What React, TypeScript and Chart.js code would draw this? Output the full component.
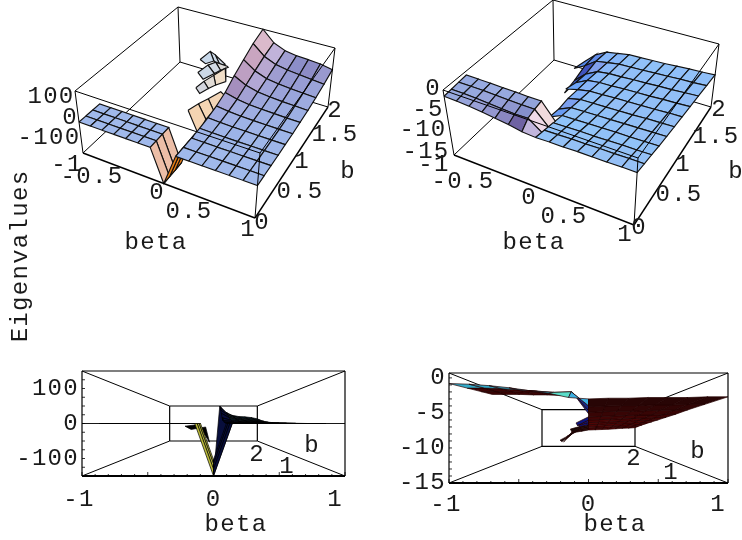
import React, { useEffect, useRef } from "react";
import { Chart, registerables } from "chart.js";

Chart.register(...registerables);

// ---------- data ----------
const betaValues = [-1, -0.857, -0.714, -0.571, -0.429, -0.286, -0.143, 0, 0.143, 0.286, 0.429, 0.571, 0.714, 0.857, 1];
const bValues = [0, 0.2, 0.4, 0.6, 0.8, 1, 1.2, 1.4, 1.6, 1.8, 2];
const plateB = [0, 0.15, 0.3, 0.45];
const _ = null;

// near flat plate for negative beta, with its drop at beta = 0 (rows follow plateB)
const leftPlate: (number | null)[][] = [
  [0, 0, 0, 0, 0, 0, 0, -150, 0, _, _, _, _, _, _],
  [0, 0, 0, 0, 0, 0, 0, -150, 0, _, _, _, _, _, _],
  [0, 0, 0, 0, 0, 0, 0, -150, 0, _, _, _, _, _, _],
  [0, 0, 0, 0, 0, 0, 0, -150, 1, _, _, _, _, _, _],
];
// main sheet (rows follow bValues)
const leftSheet: (number | null)[][] = [
  [_, _, _, _, _, _, _, _, 0, 0, 0, 0, 0, 0, 0],
  [_, _, _, _, _, _, _, _, 0, 0, 0, 0, 0, 0, 0],
  [_, _, _, _, _, _, _, _, 1, 1, 0, 0, 0, 0, 0],
  [_, _, _, _, _, _, _, _, 3, 2, 1, 1, 1, 1, 1],
  [_, _, _, _, _, _, _, _, 8, 5, 3, 3, 2, 2, 2],
  [_, _, _, _, _, _, _, _, 18, 11, 7, 5, 4, 3, 3],
  [_, _, _, _, _, _, _, _, 36, 21, 13, 10, 8, 6, 5],
  [_, _, _, _, _, _, _, _, 70, 40, 25, 18, 14, 12, 9],
  [_, _, _, _, _, _, _, _, 100, 60, 38, 29, 24, 20, 16],
  [_, _, _, _, _, _, _, _, 130, 80, 55, 44, 38, 32, 26],
  [_, _, _, _, _, _, _, _, 150, 95, 70, 60, 57, 51, 40],
];

const rightPlate: (number | null)[][] = [
  [-0.8, -0.9, -1.1, -1.4, -1.8, -2.2, -2.8, -3.0, _, _, _, _, _, _, _],
  [-0.6, -0.6, -0.7, -0.9, -1.1, -1.3, -1.2, -3.5, _, _, _, _, _, _, _],
  [-0.4, -0.4, -0.4, -0.5, -0.6, -0.7, -0.7, -3.9, _, _, _, _, _, _, _],
  [-0.2, -0.2, -0.2, -0.3, -0.3, -0.4, -0.4, -4.2, _, _, _, _, _, _, _],
];
const rightSheet: (number | null)[][] = [
  [_, _, _, _, _, _, _, -3.0, -2.9, -2.9, -2.8, -2.8, -2.8, -2.7, -2.7],
  [_, _, _, _, _, _, _, -3.5, -3.4, -3.3, -3.3, -3.2, -3.2, -3.1, -3.1],
  [_, _, _, _, _, _, _, -4.0, -3.9, -3.8, -3.8, -3.7, -3.6, -3.6, -3.5],
  [_, _, _, _, _, _, -6.0, -4.6, -4.5, -4.4, -4.3, -4.2, -4.2, -4.1, -4.0],
  [_, _, _, _, _, _, -6.5, -5.1, -5.0, -4.9, -4.8, -4.7, -4.6, -4.5, -4.4],
  [_, _, _, _, _, _, -6.3, -5.6, -5.5, -5.4, -5.3, -5.2, -5.0, -4.9, -4.8],
  [_, _, _, _, _, -7.5, -6.7, -6.1, -6.0, -5.8, -5.7, -5.6, -5.5, -5.3, -5.2],
  [_, _, _, _, -12, -8.5, -7.0, -6.6, -6.5, -6.3, -6.2, -6.1, -5.9, -5.8, -5.6],
  [_, _, _, _, -11.5, -9.0, -7.5, -7.1, -7.0, -6.8, -6.7, -6.5, -6.4, -6.2, -6.0],
  [_, _, _, -12, -10.5, -8.5, -8.0, -7.5, -7.4, -7.3, -7.1, -7.0, -6.8, -6.7, -6.5],
  [_, _, _, -13, -10.5, -9.0, -8.5, -8.0, -7.9, -7.8, -7.7, -7.5, -7.3, -7.2, -7.0],
];

// loose strips of the left surface behind the ridge: [beta, b] along two edges, all at z = -15
const stripZ = -15;
const strip1Upper = [[-0.51, 1.75], [-0.49, 1.92], [-0.4, 1.89], [-0.2, 1.79]];
const strip1Lower = [[-0.41, 1.71], [-0.35, 1.79], [-0.24, 1.75], [-0.2, 1.79]];
const strip2Upper = [[-0.4, 1.54], [-0.37, 1.7], [-0.32, 1.78], [-0.16, 1.77]];
const strip2Lower = [[-0.28, 1.46], [-0.22, 1.6], [-0.19, 1.68], [-0.14, 1.76]];
const strip3Upper = [[-0.27, 1.29], [-0.25, 1.43], [-0.21, 1.57], [-0.16, 1.73]];
const strip3Lower = [[-0.18, 1.22], [-0.14, 1.34], [-0.1, 1.43], [-0.03, 1.53]];
const strip4Upper = [[-0.14, 0.89], [-0.1, 1.05], [-0.05, 1.18], [0.01, 1.35]];
const strip4Lower = [[0.146, 0.56], [0.1, 0.84], [0.1, 1.02], [0.1, 1.3]];

// the parts of the left surface seen edge-on in the lower view: [beta, b, z]
const edgeWedge = [[0, 0, -150], [0.143, 0, 0], [0.143, 2, 150]];
const edgeTail = [[-0.65, 2, -23], [-0.23, 1, -6], [-0.045, 0.5, -80], [-0.12, 1, -20], [-0.34, 1, -34]];

const tickBottomX = [-1, 0, 1];
const tickLeftLower = [100, 0, -100];
const tickRightLower = [0, -5, -10, -15];
const topLeftTexts = ["100", "0", "-100", "-1", "-0.5", "0", "0.5", "1", "0", "0.5", "1", "1.5", "2", "b", "beta"];
const topRightTexts = ["0", "-5", "-10", "-15", "-1", "-0.5", "0", "0.5", "1", "0", "0.5", "1", "1.5", "2", "b", "beta"];
const yTitle = "Eigenvalues";

// ---------- layout ----------
const FONT = "'Liberation Mono', monospace";
const FS = 24;
const SPACING = "1.3px";
const topLeftPos = [[51, 97], [70, 118], [49, 138], [67, 165], [92, 177], [157, 193], [189, 212], [248, 230], [262, 223], [300, 192], [302, 162], [335, 135], [335, 111], [348, 172], [156, 243]];
const topRightPos = [[62, 89], [57, 110], [52, 130], [55, 152], [63, 165], [92, 182], [158, 198], [193, 217], [254, 235], [268, 228], [308, 195], [312, 165], [345, 137], [348, 110], [365, 172], [163, 243]];

const leftBox = {
  zMin: -150, zMax: 150,
  bottom: [[83, 153], [255, 218], [328, 107], [180, 62]],
  top: [[75, 91], [260, 153], [335, 48], [178, 7]],
};
const rightBox = {
  zMin: -15, zMax: 0.7,
  bottom: [[83, 155], [263, 225], [340, 107], [183, 60]],
  top: [[72, 90], [267, 158], [348, 44], [182, 0]],
};

type P = { x: number; y: number };
const lerp = (a: number, b: number, t: number) => a + (b - a) * t;
const warpU = (t: number) => t / (t + (1 - t) * 1.13);
const warpV = (t: number) => (t * 0.9) / (1 - t + t * 0.9);

function topProject(box: any, beta: number, b: number, z: number): P {
  const u = warpU((beta + 1) / 2);
  const v = warpV(b / 2);
  const w = (Math.min(box.zMax, Math.max(box.zMin, z)) - box.zMin) / (box.zMax - box.zMin);
  const pl = (q: number[][], k: number) =>
    lerp(lerp(q[0][k], q[1][k], u), lerp(q[3][k], q[2][k], u), v);
  return {
    x: lerp(pl(box.bottom, 0), pl(box.top, 0), w),
    y: lerp(pl(box.bottom, 1), pl(box.top, 1), w),
  };
}

function lowerProject(zMid: number, beta: number, b: number, z: number, zMin: number, zMax: number): P {
  const s = 1 / (1 + b);
  const zz = Math.min(zMax, Math.max(zMin, z));
  return { x: beta * s, y: zMid + (zz - zMid) * s };
}

type Cell = { c: number; r: number; plate: boolean; db: number; v: number[][] };
function cellsOf(grid: (number | null)[][], rows: number[], plate: boolean): Cell[] {
  const out: Cell[] = [];
  for (let r = 0; r < rows.length - 1; r++) {
    for (let c = 0; c < betaValues.length - 1; c++) {
      const z = [grid[r][c], grid[r][c + 1], grid[r + 1][c + 1], grid[r + 1][c]];
      if (z.some((q) => q === null)) continue;
      out.push({
        c, r, plate, db: (rows[r + 1] - rows[r]) / 2,
        v: [
          [betaValues[c], rows[r], z[0] as number],
          [betaValues[c + 1], rows[r], z[1] as number],
          [betaValues[c + 1], rows[r + 1], z[2] as number],
          [betaValues[c], rows[r + 1], z[3] as number],
        ],
      });
    }
  }
  return out;
}

const clamp = (q: number, top = 255) => Math.round(Math.max(0, Math.min(top, q)));
function shade(cell: Cell, zMin: number, zMax: number, pts: P[]) {
  let area = 0;
  pts.forEach((p, i) => {
    const n = pts[(i + 1) % pts.length];
    area += p.x * n.y - n.x * p.y;
  });
  if (area > 0) return "rgb(232,125,20)";
  const k = 0.35 / (zMax - zMin);
  const vz = cell.v.map((q) => Math.max(zMin, Math.min(zMax, q[2])));
  const sx = ((vz[1] + vz[2] - vz[0] - vz[3]) / 2) * k / 0.0714;
  const sy = ((vz[3] + vz[2] - vz[0] - vz[1]) / 2) * k / cell.db;
  const nl = Math.hypot(sx, sy, 1);
  const nx = -sx / nl, ny = Math.max(-0.35, -sy / nl), nz = 1 / nl;
  const base = [160, 185, 235];
  const cxp = [190, 130, 85];
  const cxn = [80, 60, -40];
  const cyUp = [-100, 100, 120];
  const cyDown = [150, 240, 180];
  const cx = nx >= 0 ? cxp : cxn;
  const cy = ny >= 0 ? cyUp : cyDown;
  const limits = [240, 218, 255];
  const rgb = base.map((q, i) => clamp(q * nz + cx[i] * nx + cy[i] * ny, limits[i]));
  return `rgb(${rgb.join(",")})`;
}

const poly = (pts: P[], fill: string, line = "#111", w = 1.15) => ({
  data: [...pts, pts[0]],
  showLine: true,
  fill: "shape",
  backgroundColor: fill,
  borderColor: line,
  borderWidth: w,
  pointRadius: 0,
  tension: 0,
  clip: false,
});
const edge = (a: P, b: P, w = 1) => ({
  data: [a, b],
  showLine: true,
  fill: false,
  borderColor: "#000",
  borderWidth: w,
  pointRadius: 0,
  tension: 0,
  clip: false,
});

function topDatasets(box: any, source: Cell[], extra: any[]) {
  const p = (b: number, c: number, z: number) => topProject(box, b, c, z);
  const cells = source.map((cell) => {
    const pts = cell.v.map((q) => p(q[0], q[1], q[2]));
    const floor = cell.v.map((q) => p(q[0], q[1], box.zMin).y);
    return { pts, key: floor.reduce((a, b) => a + b, 0), fill: shade(cell, box.zMin, box.zMax, pts) };
  });
  cells.sort((a, b) => b.key - a.key); // nearest first: Chart.js paints the last dataset first
  const { zMin: lo, zMax: hi } = box;
  const front = [
    edge(p(-1, 0, lo), p(1, 0, lo), 1.4),
    edge(p(1, 0, lo), p(1, 2, lo), 1.4),
    edge(p(1, 0, lo), p(1, 0, hi)),
    edge(p(-1, 0, hi), p(1, 0, hi)),
    edge(p(1, 0, hi), p(1, 2, hi)),
    edge(p(1, 2, lo), p(1, 2, hi)),
    edge(p(-1, 0, lo), p(-1, 0, hi)),
  ];
  const back = [
    edge(p(-1, 2, lo), p(1, 2, lo)),
    edge(p(-1, 0, lo), p(-1, 2, lo)),
    edge(p(-1, 2, lo), p(-1, 2, hi)),
    edge(p(-1, 0, hi), p(-1, 2, hi)),
    edge(p(-1, 2, hi), p(1, 2, hi)),
  ];
  return [...front, ...cells.map((q) => poly(q.pts, q.fill)), ...extra, ...back];
}

function stripPolys(box: any, upper: number[][], lower: number[][], colors: string[]) {
  const pu = upper.map((q) => topProject(box, q[0], q[1], stripZ));
  const pl = lower.map((q) => topProject(box, q[0], q[1], stripZ));
  return colors.map((col, i) => poly([pu[i], pu[i + 1], pl[i + 1], pl[i]], col));
}

function lowerDatasets(
  source: Cell[], zMid: number, zMin: number, zMax: number,
  fillOf: (cell: Cell) => string, line: string
) {
  const p = (b: number, c: number, z: number) => lowerProject(zMid, b, c, z, zMin, zMax);
  const cells = source.map((cell) => ({
    pts: cell.v.map((q) => p(q[0], q[1], q[2])),
    key: cell.v[0][1] * 100 + Math.abs(cell.v[0][0]),
    fill: fillOf(cell),
  }));
  cells.sort((a, b) => a.key - b.key);
  const rect = (b: number) => [p(-1, b, zMin), p(1, b, zMin), p(1, b, zMax), p(-1, b, zMax)];
  const outer = rect(0), inner = rect(2);
  const front: any[] = [];
  const rest: any[] = [];
  outer.forEach((q, i) => {
    front.push(edge(q, outer[(i + 1) % 4], i === 0 ? 2 : 1.2));
    rest.push(edge(inner[i], inner[(i + 1) % 4], 1.2));
    rest.push(edge(q, inner[i], 1));
  });
  return { front, rest, cells: cells.map((q) => poly(q.pts, q.fill, line, 0.7)) };
}

const textPlugin = (texts: string[], pos: number[][], rotated?: { text: string; x: number; y: number }) => ({
  id: "panelText",
  afterDraw(chart: any) {
    const ctx = chart.ctx;
    ctx.save();
    ctx.font = `${FS}px ${FONT}`;
    ctx.letterSpacing = SPACING;
    ctx.fillStyle = "#1a1a1a";
    ctx.textAlign = "center";
    ctx.textBaseline = "middle";
    texts.forEach((t, i) => ctx.fillText(t, pos[i][0], pos[i][1]));
    if (rotated) {
      ctx.translate(rotated.x, rotated.y);
      ctx.rotate(-Math.PI / 2);
      ctx.fillText(rotated.text, 0, 0);
    }
    ctx.restore();
  },
});

const lowerAxisPlugin = (cfg: any) => ({
  id: "lowerAxes",
  afterDraw(chart: any) {
    const { ctx, scales, chartArea: a } = chart;
    ctx.save();
    ctx.strokeStyle = "#000";
    ctx.lineWidth = 0.8;
    for (let i = -10; i <= 10; i++) {
      const x = scales.x.getPixelForValue(i / 10);
      ctx.beginPath();
      ctx.moveTo(x, a.bottom);
      ctx.lineTo(x, a.bottom - (i % 5 === 0 ? 4 : 2));
      ctx.stroke();
    }
    cfg.minorY.forEach((v: number) => {
      const y = scales.y.getPixelForValue(v);
      ctx.beginPath();
      ctx.moveTo(a.left, y);
      ctx.lineTo(a.left + 3, y);
      ctx.stroke();
    });
    ctx.font = `${FS}px ${FONT}`;
    ctx.letterSpacing = SPACING;
    ctx.fillStyle = "#1a1a1a";
    ctx.textBaseline = "middle";
    ctx.textAlign = "right";
    cfg.yTicks.forEach((v: number) => ctx.fillText(String(v), a.left - 3, scales.y.getPixelForValue(v)));
    ctx.textAlign = "center";
    tickBottomX.forEach((v) => {
      const shift = v === 1 ? -10 : v === -1 ? -3 : 0;
      ctx.fillText(String(v), scales.x.getPixelForValue(v) + shift, cfg.xTickY);
    });
    cfg.texts.forEach((t: any) => ctx.fillText(t[0], t[1], t[2]));
    ctx.restore();
  },
});

function makeTopConfig(datasets: any[], plugin: any) {
  return {
    type: "scatter",
    data: { datasets },
    plugins: [plugin],
    options: {
      animation: false, responsive: false, devicePixelRatio: 1, events: [],
      layout: { padding: 0 },
      plugins: { legend: { display: false }, tooltip: { enabled: false }, filler: { propagate: false } },
      scales: {
        x: { type: "linear", min: 0, max: 371, display: false },
        y: { type: "linear", min: 0, max: 360, reverse: true, display: false },
      },
    },
  };
}

function makeLowerConfig(datasets: any[], plugin: any, geom: any, zMin: number, zMax: number) {
  return {
    type: "scatter",
    data: { datasets },
    plugins: [plugin],
    options: {
      animation: false, responsive: false, devicePixelRatio: 1, events: [],
      layout: { padding: { top: geom.top, right: geom.right, left: 0, bottom: 0 } },
      plugins: { legend: { display: false }, tooltip: { enabled: false }, filler: { propagate: false } },
      scales: {
        x: {
          type: "linear", min: -1, max: 1, grid: { display: false }, border: { display: false },
          ticks: { display: false },
          afterFit: (s: any) => { s.height = geom.bottom; },
        },
        y: {
          type: "linear", min: zMin, max: zMax, grid: { display: false }, border: { display: false },
          ticks: { display: false },
          afterFit: (s: any) => { s.width = geom.left; },
        },
      },
    },
  };
}

function buildConfigs() {
  const leftCells = [...cellsOf(leftPlate, plateB, true), ...cellsOf(leftSheet, bValues, false)];
  const rightCells = [...cellsOf(rightPlate, plateB, true), ...cellsOf(rightSheet, bValues, false)];

  const fragL = [
    ...stripPolys(leftBox, strip4Upper, strip4Lower, ["rgb(244,212,178)", "rgb(245,214,180)", "rgb(243,214,184)"]),
    ...stripPolys(leftBox, strip3Upper, strip3Lower, ["rgb(212,214,222)", "rgb(226,220,214)", "rgb(240,222,200)"]),
    ...stripPolys(leftBox, strip2Upper, strip2Lower, ["rgb(204,216,230)", "rgb(210,218,228)", "rgb(222,220,218)"]),
    ...stripPolys(leftBox, strip1Upper, strip1Lower, ["rgb(200,216,234)", "rgb(204,218,232)", "rgb(208,218,230)"]),
  ];
  const topL = topDatasets(leftBox, leftCells, fragL);
  const topR = topDatasets(rightBox, rightCells, []);

  const lowL = lowerDatasets(leftCells, 0, -150, 150,
    (cell) => (cell.plate && cell.c === 6 ? "rgb(190,190,60)" : !cell.plate && cell.c >= 9 && cell.r >= 6 ? "rgb(10,30,40)" : "rgb(8,14,60)"),
    "#000");
  const pL = (q: number[]) => lowerProject(0, q[0], q[1], q[2], -150, 150);
  const lowLsets = [
    ...lowL.front,
    ...lowL.cells,
    poly(edgeWedge.map(pL), "rgb(8,14,60)", "#000", 0.7),
    poly(edgeTail.map(pL), "#000", "#000", 0.7),
    ...lowL.rest,
  ];

  const lowR = lowerDatasets(rightCells, -7.15, -15, 0.7,
    (cell) => {
      if (cell.plate) {
        if (cell.c === 6 && cell.r === 0) return "rgb(60,175,225)";
        if (cell.c === 5 && cell.r === 0) return "rgb(90,220,200)";
        if (cell.c < 5 && cell.r === 0) return "rgb(50,170,200)";
        if (cell.c === 6) return "rgb(20,40,140)";
        return "rgb(60,5,5)";
      }
      if (cell.c < 7) return cell.r < 6 ? "rgb(10,20,130)" : "rgb(20,10,10)";
      return `rgb(${40 + cell.r * 8},5,5)`;
    },
    "#200");
  const lowRsets = [...lowR.front, ...lowR.cells, ...lowR.rest];

  const topLText = textPlugin(topLeftTexts, topLeftPos, { text: yTitle, x: 21, y: 256 });
  const topRText = textPlugin(topRightTexts, topRightPos);
  const axisL = lowerAxisPlugin({
    yTicks: tickLeftLower, minorY: [-125, -100, -75, -50, -25, 0, 25, 50, 75, 100, 125], xTickY: 140,
    texts: [["2", 257, 95], ["1", 287, 107], ["b", 312, 86], ["beta", 236, 165]],
  });
  const axisR = lowerAxisPlugin({
    yTicks: tickRightLower, minorY: [-14, -13, -12, -11, -10, -9, -8, -7, -6, -5, -4, -3, -2, -1, 0], xTickY: 145,
    texts: [["2", 263, 99], ["1", 300, 113], ["b", 327, 92], ["beta", 244, 165]],
  });
  return [
    makeTopConfig(topL, topLText),
    makeTopConfig(topR, topRText),
    makeLowerConfig(lowLsets, axisL, { left: 82, top: 11, right: 26, bottom: 64 }, -150, 150),
    makeLowerConfig(lowRsets, axisR, { left: 78, top: 13, right: 14, bottom: 57 }, -15, 0.7),
  ];
}

const frames = [
  { left: 0, top: 0, width: 371, height: 360 },
  { left: 371, top: 0, width: 371, height: 360 },
  { left: 0, top: 360, width: 371, height: 180 },
  { left: 371, top: 360, width: 371, height: 180 },
];

export default function App() {
  const refs = [useRef<HTMLCanvasElement>(null), useRef<HTMLCanvasElement>(null), useRef<HTMLCanvasElement>(null), useRef<HTMLCanvasElement>(null)];
  useEffect(() => {
    document.body.style.margin = "0";
    document.body.style.background = "#fff";
    const configs = buildConfigs();
    const charts = configs.map((cfg, i) => new Chart(refs[i].current as HTMLCanvasElement, cfg as any));
    return () => charts.forEach((c) => c.destroy());
  }, []);
  return (
    <div style={{ position: "relative", width: 742, height: 540, overflow: "hidden" }}>
      {frames.map((f, i) => (
        <canvas
          key={i}
          ref={refs[i]}
          width={f.width}
          height={f.height}
          style={{ position: "absolute", left: f.left, top: f.top, width: f.width, height: f.height, display: "block" }}
        />
      ))}
    </div>
  );
}
